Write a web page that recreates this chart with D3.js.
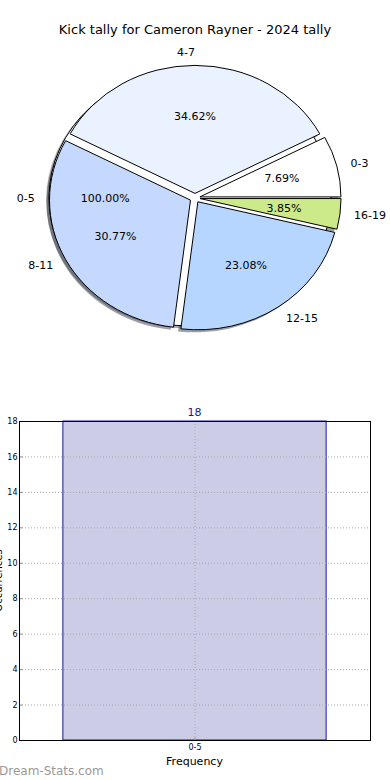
<!DOCTYPE html>
<html>
<head>
<meta charset="utf-8">
<script src="https://cdn.jsdelivr.net/npm/d3@7/dist/d3.min.js"></script>
<style>
html,body{margin:0;padding:0;background:#fff;}
svg{display:block;font-family:"DejaVu Sans",sans-serif;}
</style>
</head>
<body>
<svg id="chart" width="390" height="780"></svg>
<script>
// ---- data ----
const chartTitle = "Kick tally for Cameron Rayner - 2024 tally";
const pieLabels = ["0-3", "4-7", "8-11", "12-15", "16-19"];
const pieValues = [2, 9, 8, 6, 1];
const pieColors = ["#ffffff", "#eaf1ff", "#c5d9ff", "#b6d6ff", "#cdea8a"];
const outerLabels = ["0-5"];
const outerValues = [1];
const outerColors = ["#ffffff"];
const histCategories = ["0-5"];
const histValues = [18];
const yTicks = [0, 2, 4, 6, 8, 10, 12, 14, 16, 18];

(function () {
const svg = d3.select("#chart");

svg.append("text").attr("x", 195).attr("y", 34).attr("text-anchor", "middle")
  .attr("font-size", 13).attr("fill", "#000").text(chartTitle);

// ---- pie ----
const cx = 195, cy = 198, rx = 141, ry = 128, R = 100;
const explode = 0.036;
const arc = d3.arc().innerRadius(0).outerRadius(R);
const pie = d3.pie().sort(null).value(d => d).startAngle(Math.PI / 2).endAngle(Math.PI / 2 - 2 * Math.PI);

function layout(values) {
  return pie(values).map(a => {
    const mid = (a.startAngle + a.endAngle) / 2;
    const ux = Math.sin(mid), uy = -Math.cos(mid);
    return {a, ux, uy, ox: explode * rx * ux, oy: explode * ry * uy};
  });
}
const outer = layout(outerValues);
const inner = layout(pieValues);

const pieG = svg.append("g");
function shade(c) {
  const k = d3.rgb(c);
  return d3.rgb(k.r * 0.3, k.g * 0.3, k.b * 0.3).toString();
}
function wedge(g, d, fill, dx, dy, opts) {
  g.append("path")
    .attr("d", arc(d.a))
    .attr("transform", `translate(${cx + d.ox + dx},${cy + d.oy + dy}) scale(${rx / R},${ry / R})`)
    .attr("fill", fill)
    .attr("fill-opacity", opts.op)
    .attr("stroke", opts.stroke)
    .attr("stroke-width", 1)
    .attr("stroke-linejoin", "round")
    .attr("vector-effect", "non-scaling-stroke");
}
const sdx = -0.02 * rx, sdy = 0.02 * ry;
outer.forEach((d, i) => wedge(pieG, d, shade(outerColors[i]), sdx, sdy, {op: 0.5, stroke: "none"}));
inner.forEach((d, i) => wedge(pieG, d, shade(pieColors[i]), sdx, sdy, {op: 0.5, stroke: "none"}));
outer.forEach((d, i) => wedge(pieG, d, outerColors[i], 0, 0, {op: 1, stroke: "#000"}));
inner.forEach((d, i) => wedge(pieG, d, pieColors[i], 0, 0, {op: 1, stroke: "#000"}));

function labels(items, labs, values) {
  const total = d3.sum(values);
  items.forEach((d, i) => {
    const lx = cx + d.ox + 1.1 * rx * d.ux;
    const ly = cy + d.oy + 1.1 * ry * d.uy;
    pieG.append("text").attr("x", lx).attr("y", ly).attr("dy", "0.35em")
      .attr("text-anchor", d.ux > 1e-6 ? "start" : "end")
      .attr("font-size", 11).attr("fill", "#000").text(labs[i]);
    const px = cx + d.ox + 0.6 * rx * d.ux;
    const py = cy + d.oy + 0.6 * ry * d.uy;
    pieG.append("text").attr("x", px).attr("y", py).attr("dy", "0.35em")
      .attr("text-anchor", "middle")
      .attr("font-size", 11).attr("fill", "#000")
      .text((values[i] / total * 100).toFixed(2) + "%");
  });
}
labels(outer, outerLabels, outerValues);
labels(inner, pieLabels, pieValues);

// ---- histogram ----
const pL = 19, pR = 370, pT = 421, pB = 740;
const x = d3.scaleLinear().domain([-0.5, histCategories.length - 0.5]).range([pL, pR]);
const y = d3.scaleLinear().domain([0, 18]).range([pB, pT]);
const barW = 0.75;
const hg = svg.append("g");

hg.selectAll("rect.bar").data(histValues).join("rect").attr("class", "bar")
  .attr("x", (d, i) => x(i - barW / 2))
  .attr("width", (d, i) => x(i + barW / 2) - x(i - barW / 2))
  .attr("y", d => y(d)).attr("height", d => y(0) - y(d))
  .attr("fill", "#ccccE6").attr("stroke", "#16169a").attr("stroke-width", 1);

hg.selectAll("line.hgrid").data(yTicks).join("line").attr("class", "hgrid")
  .attr("x1", pL).attr("x2", pR).attr("y1", d => y(d) + 0.5).attr("y2", d => y(d) + 0.5)
  .attr("stroke", "#aaaaaa").attr("stroke-width", 1).attr("stroke-dasharray", "1,2");
hg.selectAll("line.vgrid").data(histCategories).join("line").attr("class", "vgrid")
  .attr("x1", (d, i) => x(i) + 0.5).attr("x2", (d, i) => x(i) + 0.5).attr("y1", pT).attr("y2", pB)
  .attr("stroke", "#aaaaaa").attr("stroke-width", 1).attr("stroke-dasharray", "1,2");

const yAxis = d3.axisLeft(y).tickValues(yTicks).tickSize(3).tickPadding(2);
const ya = hg.append("g").attr("transform", `translate(${pL + 0.5},0)`).call(yAxis);
ya.select(".domain").remove();
ya.selectAll(".tick line").attr("stroke", "#888").attr("x2", 3).attr("x1", 0);
ya.selectAll(".tick text").attr("font-size", 8).attr("fill", "#000").attr("font-family", "DejaVu Sans").attr("x", -2);

const xAxis = d3.axisBottom(x).tickValues(histCategories.map((d, i) => i)).tickFormat(i => histCategories[i]).tickSize(3).tickPadding(3);
const xa = hg.append("g").attr("transform", `translate(0,${pB + 0.5})`).call(xAxis);
xa.select(".domain").remove();
xa.selectAll(".tick line").attr("stroke", "#888").attr("y2", -3);
xa.selectAll(".tick text").attr("font-size", 8).attr("fill", "#000").attr("font-family", "DejaVu Sans").attr("y", 4);

hg.append("rect").attr("x", pL + 0.5).attr("y", pT + 0.5).attr("width", pR - pL).attr("height", pB - pT)
  .attr("fill", "none").attr("stroke", "#000").attr("stroke-width", 1);

hg.selectAll("text.val").data(histValues).join("text").attr("class", "val")
  .attr("x", (d, i) => x(i)).attr("y", d => y(d) - 5).attr("text-anchor", "middle")
  .attr("font-size", 11).attr("fill", "#1a1a80").text(d => d);

hg.append("text").attr("x", (pL + pR) / 2).attr("y", 765).attr("text-anchor", "middle")
  .attr("font-size", 11).attr("fill", "#000").text("Frequency");
hg.append("text").attr("transform", `translate(2,${(pT + pB) / 2}) rotate(-90)`)
  .attr("text-anchor", "middle").attr("font-size", 10).attr("fill", "#000").text("Occurrences");

svg.append("text").attr("x", -1).attr("y", 775).attr("font-size", 12)
  .attr("fill", "#999").text("Dream-Stats.com");
})();
</script>
</body>
</html>
